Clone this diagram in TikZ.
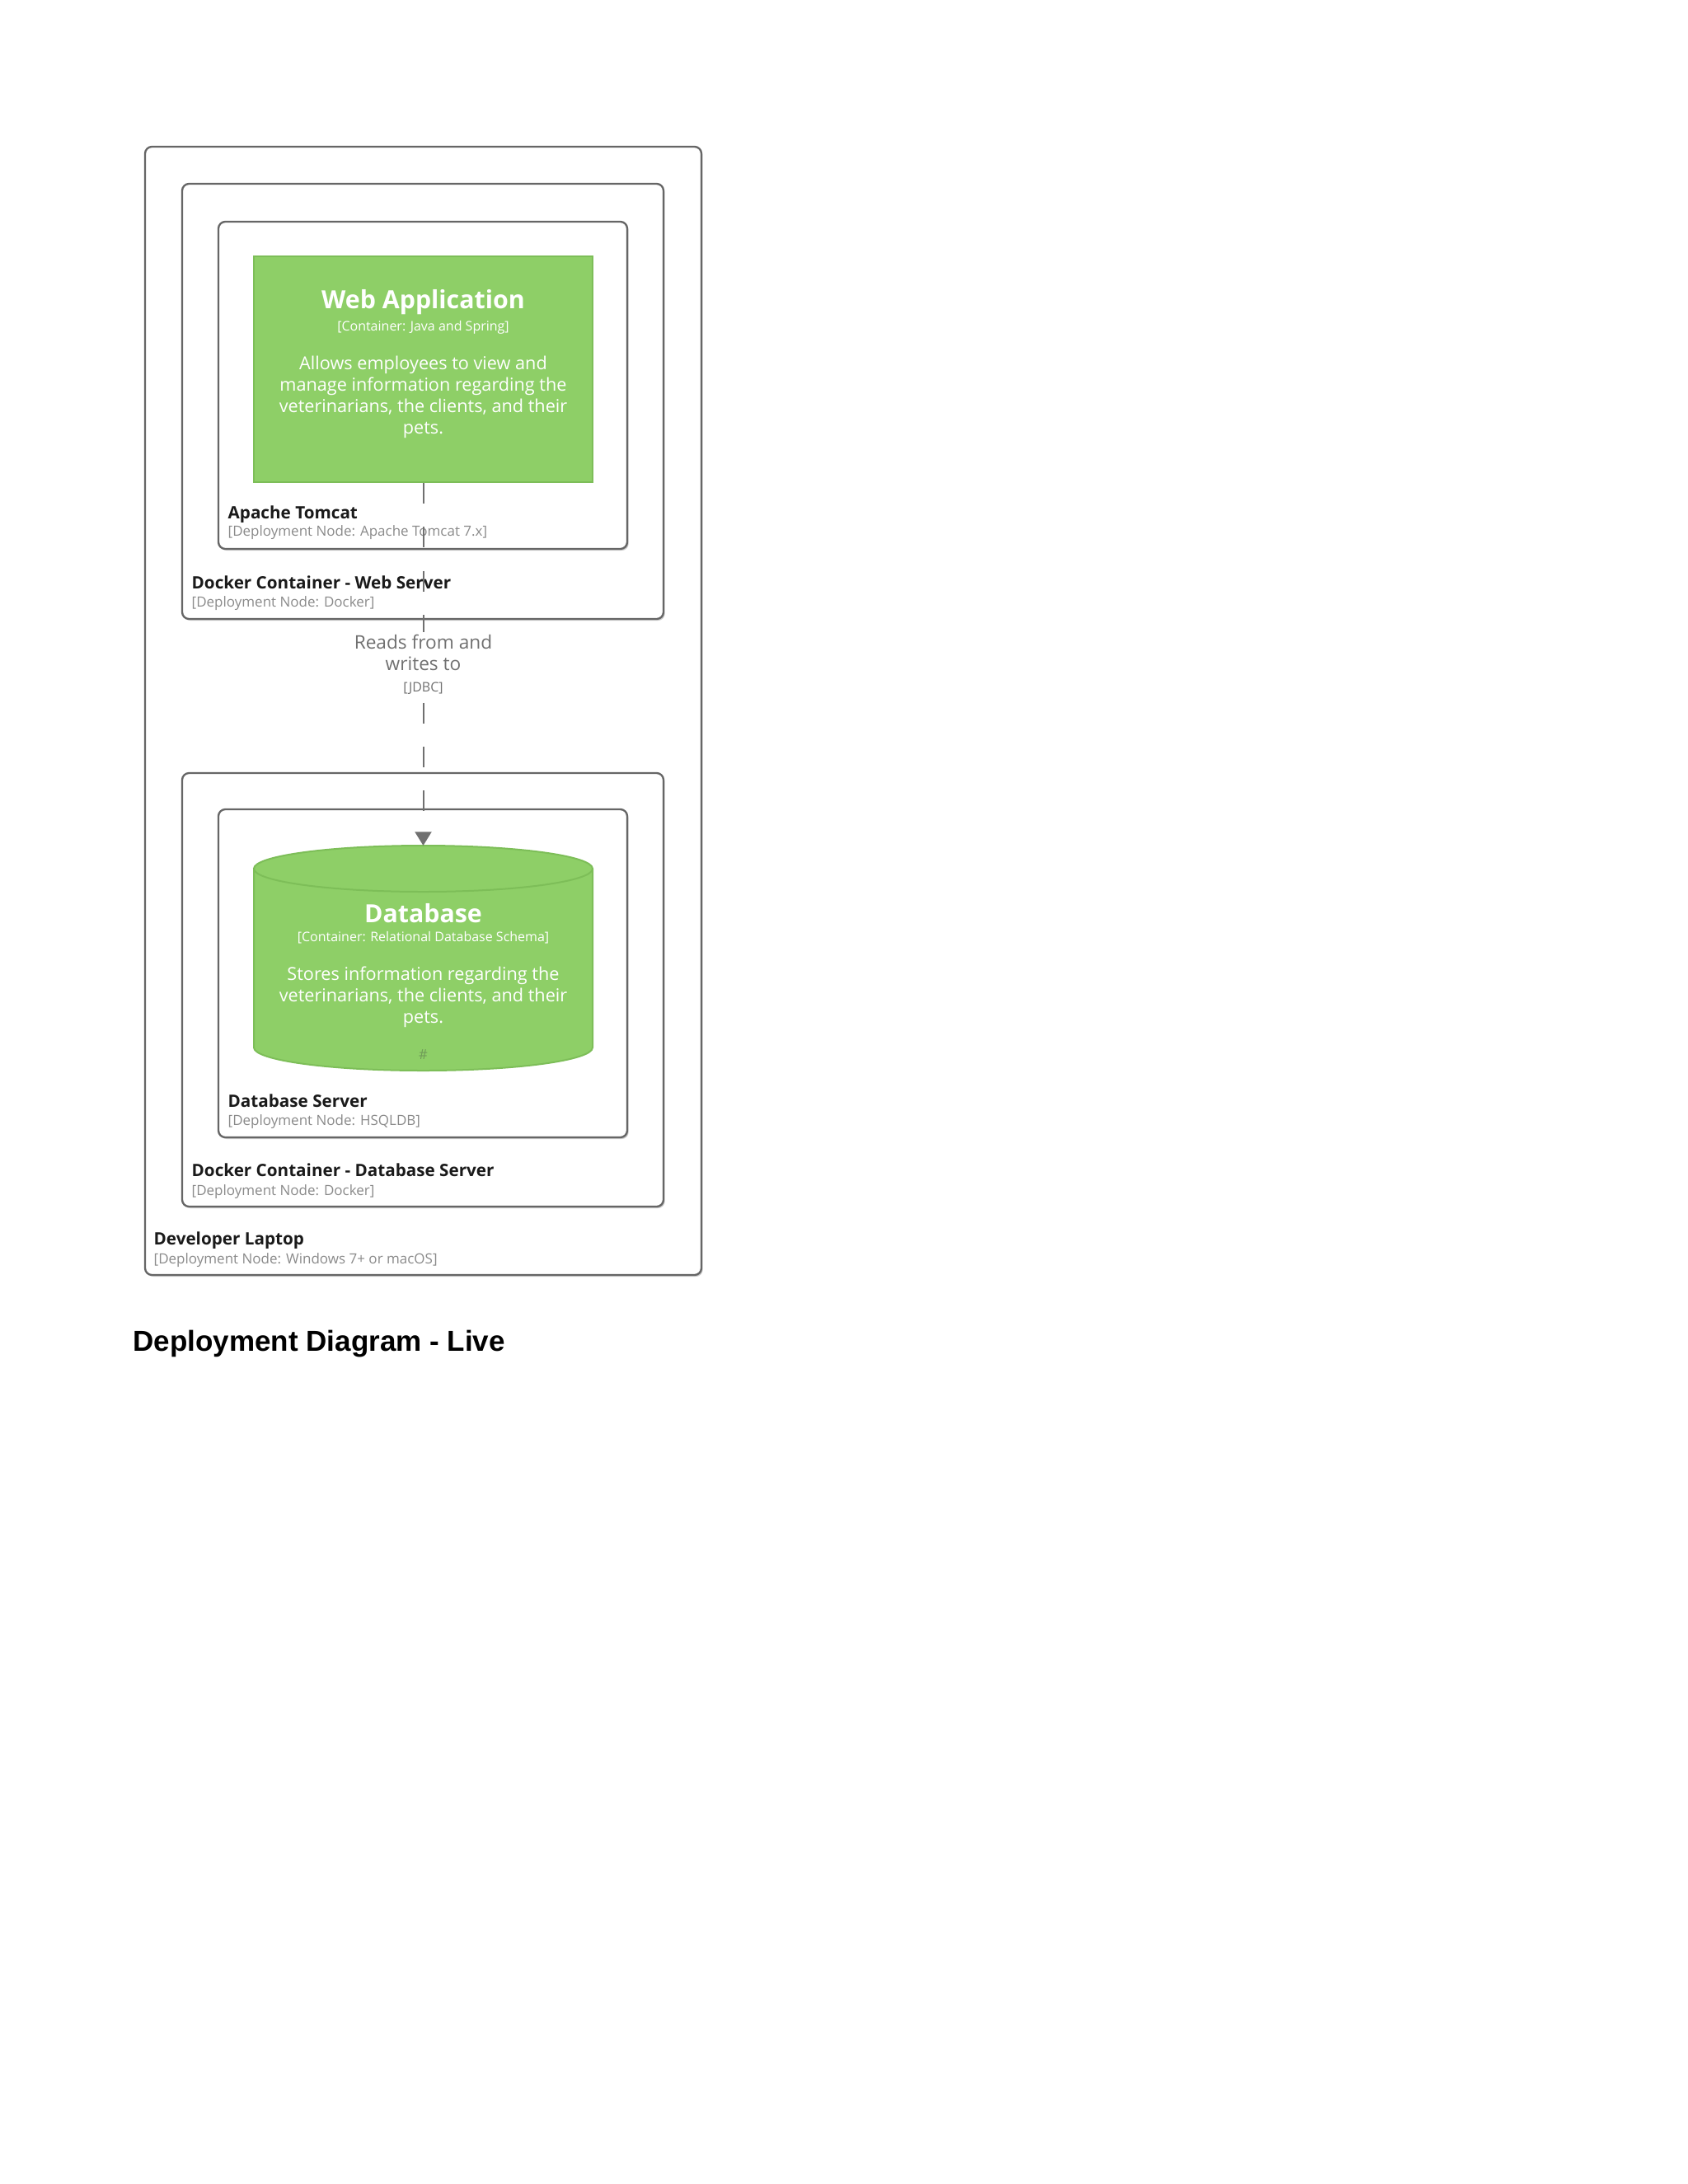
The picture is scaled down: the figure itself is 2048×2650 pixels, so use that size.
\documentclass[tikz,border=0pt]{standalone}
\usepackage{fontspec}
\setmainfont{Open Sans}
\newfontfamily\titlefont{Liberation Sans}
\usetikzlibrary{arrows.meta,shadows}
\definecolor{boxline}{HTML}{666666}
\definecolor{appgreen}{HTML}{8ECF67}
\definecolor{appedge}{HTML}{7DBE58}
\definecolor{relgray}{HTML}{707070}
\definecolor{subgray}{HTML}{8A8A8A}
\definecolor{namec}{HTML}{1A1A1A}
\definecolor{hashc}{HTML}{6F9A58}
\begin{document}
\begin{tikzpicture}[x=0.3pt,y=-0.3pt,
  depbox/.style={draw=boxline, line width=0.7pt, rounded corners=2.5pt, fill=white, inner sep=0pt,
    drop shadow={shadow xshift=0.5pt, shadow yshift=-0.6pt, opacity=0.35, fill=black!60}},
  appbox/.style={draw=appedge, line width=0.6pt, fill=appgreen, inner sep=0pt},
  apptitle/.style={text=white, font=\bfseries\fontsize{9.1}{10}\selectfont, inner sep=0pt},
  apptech/.style={text=white, font=\fontsize{4.8}{6}\selectfont, inner sep=0pt},
  appdesc/.style={text=white, align=center, font=\fontsize{6.5}{7.8}\selectfont, inner sep=0pt},
  depname/.style={anchor=west, text=namec, font=\bfseries\fontsize{6.2}{7}\selectfont, inner sep=0pt},
  depsub/.style={anchor=west, text=subgray, font=\fontsize{5.1}{6}\selectfont, inner sep=0pt},
  rel/.style={draw=relgray, line width=0.6pt, dash pattern=on 7.5pt off 8.5pt, -{Triangle[width=6pt,length=5pt]}},
  rellabel/.style={fill=white, text=relgray, align=center, font=\fontsize{6.8}{7.8}\selectfont, inner sep=1pt}
]
\useasboundingbox (0,0) rectangle (2048,2650);
\fill[white] (0,0) rectangle (2048,2650);

% Developer laptop
\node[depbox, minimum width=202.5pt, minimum height=410.7pt] (laptop) at (513.5,862.5) {};
% Web server side
\node[depbox, minimum width=175.2pt, minimum height=158.4pt] (dockweb) at (513,487) {};
\node[depbox, minimum width=148.8pt, minimum height=119.1pt] (tomcat) at (513,467.5) {};
\node[appbox, minimum width=123.3pt, minimum height=82.2pt] (webapp) at (513.5,448) {};
\node[apptitle] (webappname) at (513.5,367) {Web Application};
\node[apptech] (webapptech) at (513.5,397) {[Container: Java and Spring]};
\node[appdesc] (webappdesc) at (513.5,482) {Allows employees to view and\\manage information regarding the\\veterinarians, the clients, and their\\pets.};

% Database side
\node[depbox, minimum width=175.2pt, minimum height=157.8pt] (dockdb) at (513,1201) {};
\node[depbox, minimum width=148.8pt, minimum height=119.4pt] (dbserver) at (513,1181) {};
\fill[appgreen] (308,1054) -- (308,1271) arc[start angle=180, end angle=0, x radius=205.5, y radius=28]
  -- (719,1054) arc[start angle=0, end angle=-180, x radius=205.5, y radius=28] -- cycle;
\draw[appedge, line width=0.6pt] (308,1054) -- (308,1271) arc[start angle=180, end angle=0, x radius=205.5, y radius=28]
  -- (719,1054);
\draw[appedge, line width=0.6pt, fill=appgreen] (513.5,1054) ellipse [x radius=205.5, y radius=28];
\node[apptitle] (dbname) at (513.5,1108) {Database};
\node[apptech] (dbtech) at (513.5,1138) {[Container: Relational Database Schema]};
\node[appdesc] (dbdesc) at (513.5,1210) {Stores information regarding the\\veterinarians, the clients, and their\\pets.};
\node[text=hashc, font=\fontsize{5}{6}\selectfont, inner sep=0pt] (dbhash) at (513.5,1280) {\#};
\coordinate (dbtop) at (513.5,1026);

% Deployment node labels
\node[depname] (tomcatname) at (276,624) {Apache Tomcat};
\node[depsub] (tomcatsub) at (276,646) {[Deployment Node: Apache Tomcat 7.x]};
\node[depname] (dockwebname) at (232,707) {Docker Container - Web Server};
\node[depsub] (dockwebsub) at (232,732) {[Deployment Node: Docker]};
\node[depname] (dbservername) at (276,1336) {Database Server};
\node[depsub] (dbserversub) at (276,1361) {[Deployment Node: HSQLDB]};
\node[depname] (dockdbname) at (232,1420) {Docker Container - Database Server};
\node[depsub] (dockdbsub) at (232,1446) {[Deployment Node: Docker]};
\node[depname] (laptopname) at (186,1505) {Developer Laptop};
\node[depsub] (laptopsub) at (186,1529) {[Deployment Node: Windows 7+ or macOS]};

% Relationship
\draw[rel] (webapp.south) -- node[rellabel] (relname) {Reads from and\\writes to\\{\fontsize{4.8}{7.8}\selectfont [JDBC]}} (dbtop);

% Title
\node[anchor=base west, font=\titlefont\bfseries\fontsize{10.5}{12}\selectfont, inner sep=0pt] (title) at (161,1639) {Deployment Diagram - Live};
\end{tikzpicture}
\end{document}
